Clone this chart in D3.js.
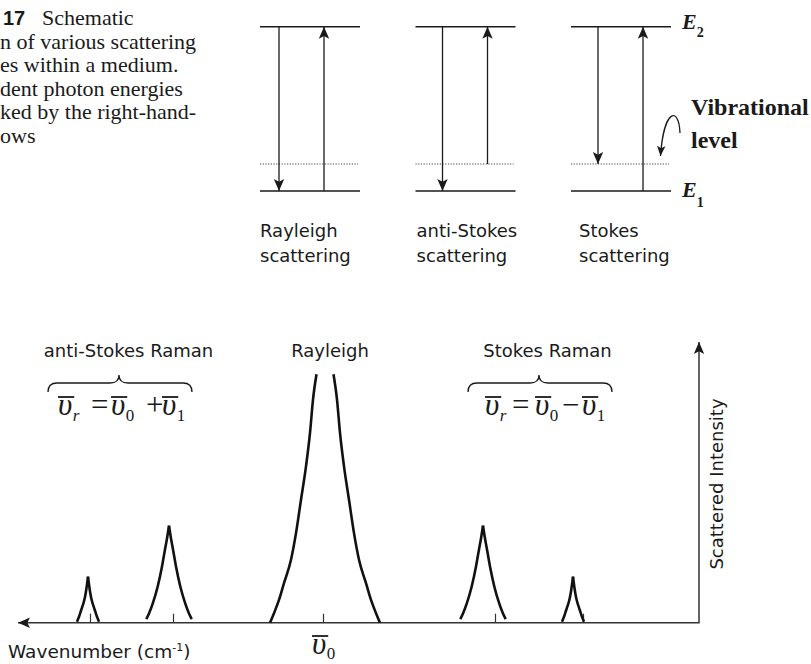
<!DOCTYPE html>
<html>
<head>
<meta charset="utf-8">
<script src="https://cdn.jsdelivr.net/npm/d3@7"></script>
<style>
  html, body { margin: 0; padding: 0; background: #fff; }
  svg { display: block; }
</style>
</head>
<body>
<div id="chart"></div>
<script>
/**
 * Scattering schematic: energy-level diagram (top) and
 * Rayleigh / Raman spectrum (bottom).
 */

// --- energy-level diagram ---
const PROCESSES      = ['Rayleigh', 'anti-Stokes', 'Stokes'];
const PROCESS_LABELS = [['Rayleigh', 'scattering'], ['anti-Stokes', 'scattering'], ['Stokes', 'scattering']];
const LEVEL_NAMES    = ['E1', 'vib', 'E2'];
const LEVEL_ENERGY   = [0, 0.164, 1];
const EMIT_FROM      = ['E2', 'E2', 'E2'];
const EMIT_TO        = ['E1', 'E1', 'vib'];
const ABSORB_FROM    = ['E1', 'vib', 'E1'];
const ABSORB_TO      = ['E2', 'E2', 'E2'];

// --- spectrum (relative wavenumber, arbitrary intensity) ---
const TICK_SHIFTS  = [-233, -150, 0, 172, 260];
const PEAK_CENTERS = [-235, -154, 2, 160, 250];
const PEAK_SHAPES  = ['small', 'big', 'rayleigh', 'big', 'small'];
// one flank of each line shape: [offset from centre, intensity]
const SHAPE_SMALL    = [[0, 16.4], [1, 13.6], [2.3, 10.5], [3.8, 7.9], [5.7, 5.7], [7.5, 3.75], [9, 2.1], [10, 1.25], [11, 0.36]];
const SHAPE_BIG      = [[0, 34.6], [2, 30], [4, 26.1], [7, 20], [11.3, 12.9], [16.3, 6.8], [20, 3.3], [22.7, 1.3]];
const SHAPE_RAYLEIGH = [[8.5, 88.5], [12, 79.5], [15, 67.6], [19, 55.7], [24, 43.8], [29, 31.9], [34, 22.4], [41, 14.1], [46, 8.1], [51, 3.4], [55, 0]];
const SPECTRUM_LABELS = ['anti-Stokes Raman', 'Rayleigh', 'Stokes Raman'];
const LABEL_SHIFTS    = [-194.5, 7, 224.5];
const BRACE_SPANS     = [[-275, -131, -204], [145, 289, 216]];

const CAPTION = ['n of various scattering', 'es within a medium.', 'dent photon energies', 'ked by the right-hand-', 'ows'];

const W = 811, H = 664;
const SANS  = '"DejaVu Sans", Verdana, sans-serif';
const SERIF = '"Liberation Serif", "Times New Roman", serif';
const INK = '#1a1a1a';

const svg = d3.select('#chart').append('svg').attr('width', W).attr('height', H);

const defs = svg.append('defs');
function addMarker(id, len, half) {
  defs.append('marker')
    .attr('id', id).attr('markerUnits', 'userSpaceOnUse')
    .attr('viewBox', `${-len} ${-half - 1} ${len + 1} ${half * 2 + 2}`)
    .attr('markerWidth', len + 1).attr('markerHeight', half * 2 + 2)
    .attr('refX', 0).attr('refY', 0).attr('orient', 'auto-start-reverse')
    .append('path')
    .attr('d', `M0,0 L${-len},${-half} L${-len * 0.78},0 L${-len},${half} Z`)
    .attr('fill', INK);
}
addMarker('arr', 12, 5.2);
addMarker('arrSmall', 10, 4.2);

// ---------- caption (cropped at the left edge) ----------
const cap = svg.append('g').attr('fill', INK);
cap.append('text').attr('x', 3).attr('y', 25)
  .style('font-family', '"Liberation Sans", Arial, sans-serif').style('font-weight', 'bold').style('font-size', '20px')
  .text('17');
cap.append('text').attr('x', 42).attr('y', 25)
  .style('font-family', SERIF).style('font-size', '22px').text('Schematic');
CAPTION.forEach((t, i) => {
  cap.append('text').attr('x', 0).attr('y', 49 + i * 23.4)
    .style('font-family', SERIF).style('font-size', '22px').text(t);
});

// ---------- energy-level diagram ----------
const energy = name => LEVEL_ENERGY[LEVEL_NAMES.indexOf(name)];
const yE = d3.scaleLinear().domain([0, 1]).range([191, 26.7]);
const xProc = d3.scaleBand().domain(PROCESSES).range([260, 671]).paddingInner(0.357).paddingOuter(0);
const ARROW_INSET = [[19, 64], [27, 72], [27, 72]];
const LABEL_INSET = [0, 1, 8];

const eg = svg.append('g');
PROCESSES.forEach((p, i) => {
  const x0 = xProc(p), x1 = x0 + xProc.bandwidth();
  ['E1', 'E2'].forEach(l => {
    eg.append('line')
      .attr('x1', x0).attr('x2', x1).attr('y1', yE(energy(l))).attr('y2', yE(energy(l)))
      .attr('stroke', INK).attr('stroke-width', 1.6);
  });
  eg.append('line')
    .attr('x1', x0).attr('x2', x1 - 2).attr('y1', yE(energy('vib'))).attr('y2', yE(energy('vib')))
    .attr('stroke', '#444').attr('stroke-width', 1.1).attr('stroke-dasharray', '1.2,1.5');

  const [ax, bx] = ARROW_INSET[i];
  eg.append('line')
    .attr('x1', x0 + ax).attr('x2', x0 + ax)
    .attr('y1', yE(energy(EMIT_FROM[i]))).attr('y2', yE(energy(EMIT_TO[i])))
    .attr('stroke', INK).attr('stroke-width', 1.3).attr('marker-end', 'url(#arr)');
  eg.append('line')
    .attr('x1', x0 + bx).attr('x2', x0 + bx)
    .attr('y1', yE(energy(ABSORB_FROM[i]))).attr('y2', yE(energy(ABSORB_TO[i])))
    .attr('stroke', INK).attr('stroke-width', 1.3).attr('marker-end', 'url(#arr)');

  PROCESS_LABELS[i].forEach((t, j) => {
    eg.append('text').attr('x', x0 + LABEL_INSET[i]).attr('y', 237 + j * 25)
      .attr('fill', INK).style('font-family', SANS).style('font-size', '18px').text(t);
  });
});

// level names
function levelLabel(sub, y, dySub) {
  const t = eg.append('text').attr('x', 682).attr('y', y).attr('fill', INK)
    .style('font-family', SERIF).style('font-weight', 'bold').style('font-size', '22px');
  t.append('tspan').style('font-style', 'italic').text('E');
  t.append('tspan').attr('dy', dySub).style('font-size', '14px').text(sub);
}
levelLabel('2', yE(energy('E2')) + 2.5, 8);
levelLabel('1', yE(energy('E1')) + 6, 10);

eg.append('text').attr('x', 691).attr('y', 115).attr('fill', INK)
  .style('font-family', SERIF).style('font-weight', 'bold').style('font-size', '24px').text('Vibrational');
eg.append('text').attr('x', 691).attr('y', 148).attr('fill', INK)
  .style('font-family', SERIF).style('font-weight', 'bold').style('font-size', '24px').text('level');
eg.append('path')
  .attr('d', 'M680,133 C679,106 664,108 660.5,156')
  .attr('fill', 'none').attr('stroke', INK).attr('stroke-width', 1.3).attr('marker-end', 'url(#arrSmall)');

// ---------- spectrum ----------
const x = d3.scaleLinear().domain([-305, 376]).range([18, 699]);
const y = d3.scaleLinear().domain([0, 100]).range([622.7, 342]);
const sg = svg.append('g');

// axes: one polyline with arrowheads at both ends
sg.append('path')
  .attr('d', d3.line()([[x(-305), y(0)], [x(376), y(0)], [x(376), y(100)]]))
  .attr('fill', 'none').attr('stroke', '#333').attr('stroke-width', 1.5)
  .attr('marker-start', 'url(#arr)').attr('marker-end', 'url(#arr)');

sg.append('g')
  .attr('transform', `translate(0,${y(0)})`)
  .call(d3.axisTop(x).tickValues(TICK_SHIFTS).tickSize(9).tickFormat(''))
  .call(ax => ax.select('.domain').remove())
  .call(ax => ax.selectAll('.tick line').attr('stroke', '#333').attr('stroke-width', 1.2));

// peaks: each flank drawn separately so the tips stay sharp
const shapes = { small: SHAPE_SMALL, big: SHAPE_BIG, rayleigh: SHAPE_RAYLEIGH };
const flank = d3.line().x(d => x(d[0])).y(d => y(d[1])).curve(d3.curveMonotoneX);
PEAK_CENTERS.forEach((c, i) => {
  const prof = shapes[PEAK_SHAPES[i]];
  const left  = prof.map(([o, v]) => [c - o, v]).sort((a, b) => a[0] - b[0]);
  const right = prof.map(([o, v]) => [c + o, v]);
  [left, right].forEach(pts => {
    sg.append('path').attr('d', flank(pts))
      .attr('fill', 'none').attr('stroke', '#111').attr('stroke-width', 2.6);
  });
});

// region labels and braces
SPECTRUM_LABELS.forEach((t, i) => {
  sg.append('text').attr('x', x(LABEL_SHIFTS[i])).attr('y', 356.5)
    .attr('text-anchor', 'middle').attr('fill', INK)
    .style('font-family', SANS).style('font-size', '18px').text(t);
});
function bracePath(x0, x1, xm, yEnd, yTip) {
  const yMid = yEnd - 9, r = 9;
  return `M${x0},${yEnd} Q${x0},${yMid} ${x0 + r},${yMid} L${xm - r},${yMid} Q${xm},${yMid} ${xm},${yTip}` +
         ` Q${xm},${yMid} ${xm + r},${yMid} L${x1 - r},${yMid} Q${x1},${yMid} ${x1},${yEnd}`;
}
BRACE_SPANS.forEach(([a, b, m]) => {
  sg.append('path').attr('d', bracePath(x(a), x(b), x(m), 392, 375))
    .attr('fill', 'none').attr('stroke', INK).attr('stroke-width', 1.3);
});

// equations  v̄r = v̄0 ± v̄1 ; upsilon width is measured so subscript and bar sit tight
function upsilon(g, px, base, sub, subItalic, subDrop = 6) {
  const u = g.append('text').attr('x', px).attr('y', base).attr('fill', INK)
    .style('font-family', SERIF).style('font-style', 'italic').style('font-size', '31px').text('υ');
  const w = u.node().getComputedTextLength();
  g.append('text').attr('x', px + w + 0.5).attr('y', base + subDrop).attr('fill', INK)
    .style('font-family', SERIF).style('font-style', subItalic ? 'italic' : 'normal').style('font-size', '17px').text(sub);
  g.append('line').attr('x1', px).attr('x2', px + Math.max(w + 2, 16)).attr('y1', base - 18).attr('y2', base - 18)
    .attr('stroke', INK).attr('stroke-width', 1.8);
}
function equation(px, op, offs) {
  const g = sg.append('g');
  const base = 415;
  upsilon(g, px, base, 'r', true);
  g.append('text').attr('x', px + offs[0]).attr('y', base).attr('fill', INK)
    .style('font-family', SERIF).style('font-size', '31px').text('=');
  upsilon(g, px + offs[1], base, '0', false);
  g.append('text').attr('x', px + offs[2]).attr('y', base).attr('fill', INK)
    .style('font-family', SERIF).style('font-size', '31px').text(op);
  upsilon(g, px + offs[3], base, '1', false);
}
equation(58, '+', [33, 53, 88, 104]);
equation(485, '\u2212', [27, 50, 77, 97]);

// axis titles
const wl = sg.append('text').attr('x', 8).attr('y', 658).attr('fill', INK)
  .style('font-family', SANS).style('font-size', '18.5px');
wl.append('tspan').text('Wavenumber (cm');
wl.append('tspan').attr('dy', -7).style('font-size', '11px').text('-1');
wl.append('tspan').attr('dy', 7).text(')');

upsilon(sg, x(-11), 654, '0', false, 4.5);

sg.append('text')
  .attr('transform', `translate(723,484) rotate(-90)`)
  .attr('text-anchor', 'middle').attr('fill', INK)
  .style('font-family', SANS).style('font-size', '18px').text('Scattered Intensity');
</script>
</body>
</html>
